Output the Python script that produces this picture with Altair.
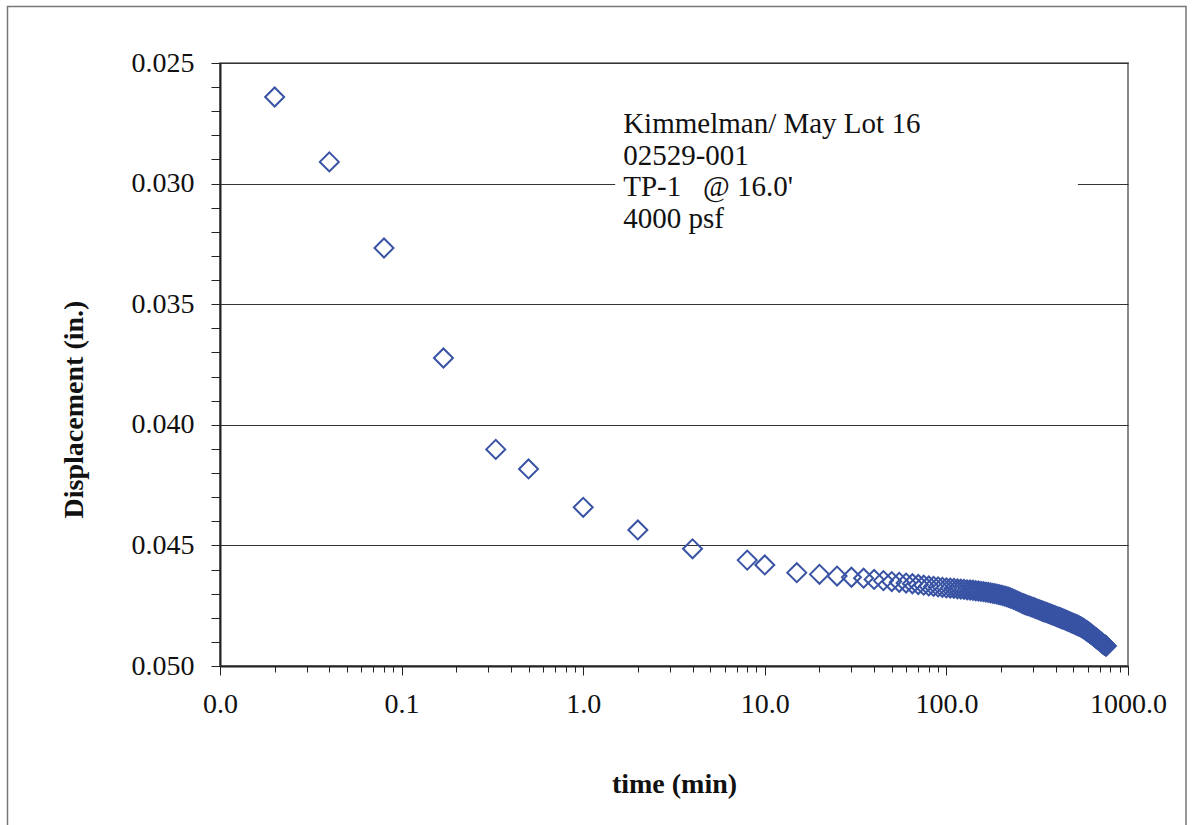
import altair as alt
import pandas as pd

# ---- data ----
early_time = [0.02, 0.04, 0.08, 0.17, 0.33, 0.5, 1, 2, 4, 8, 10]
early_disp = [0.02641, 0.02910, 0.03267, 0.03723, 0.04102, 0.04183,
              0.04342, 0.04436, 0.04514, 0.04561, 0.04581]

late_time = [15, 20, 25, 30, 35, 40, 45, 50, 55, 60, 65, 70, 75, 80, 85, 90, 95, 100,
             105, 110, 115, 120, 125, 130, 135, 140, 145, 150, 155, 160, 165, 170, 175, 180, 185, 190, 195, 200,
             205, 210, 215, 220, 225, 230, 235, 240, 245, 250, 255, 260, 265, 270, 275, 280, 285, 290, 295, 300,
             305, 310, 315, 320, 325, 330, 335, 340, 345, 350, 355, 360, 365, 370, 375, 380, 385, 390, 395, 400,
             405, 410, 415, 420, 425, 430, 435, 440, 445, 450, 455, 460, 465, 470, 475, 480, 485, 490, 495, 500,
             505, 510, 515, 520, 525, 530, 535, 540, 545, 550, 555, 560, 565, 570, 575, 580, 585, 590, 595, 600,
             605, 610, 615, 620, 625, 630, 635, 640, 645, 650, 655, 660, 665, 670, 675, 680, 685, 690, 695, 700,
             705, 710, 715, 720, 725, 730, 735, 740, 745, 750, 755, 760]
late_disp = [0.04613, 0.04620, 0.04627, 0.04632, 0.04636, 0.04641, 0.04646, 0.04650, 0.04653, 0.04656,
             0.04659, 0.04662, 0.04665, 0.04668, 0.04670, 0.04672, 0.04674, 0.04676,
             0.04677, 0.04678, 0.04680, 0.04681, 0.04682, 0.04684, 0.04685, 0.04686, 0.04688, 0.04689,
             0.04691, 0.04692, 0.04694, 0.04695, 0.04697, 0.04699, 0.04700, 0.04702, 0.04704, 0.04706,
             0.04708, 0.04710, 0.04713, 0.04715, 0.04718, 0.04721, 0.04724, 0.04727, 0.04730, 0.04733,
             0.04736, 0.04739, 0.04742, 0.04744, 0.04747, 0.04749, 0.04751, 0.04753, 0.04755, 0.04757,
             0.04759, 0.04761, 0.04763, 0.04765, 0.04767, 0.04769, 0.04771, 0.04773, 0.04775, 0.04777,
             0.04778, 0.04780, 0.04782, 0.04783, 0.04785, 0.04787, 0.04788, 0.04790, 0.04791, 0.04793,
             0.04795, 0.04796, 0.04798, 0.04799, 0.04801, 0.04803, 0.04804, 0.04806, 0.04807, 0.04809,
             0.04810, 0.04812, 0.04813, 0.04815, 0.04816, 0.04818, 0.04819, 0.04821, 0.04822, 0.04823,
             0.04825, 0.04826, 0.04828, 0.04829, 0.04831, 0.04832, 0.04834, 0.04835, 0.04837, 0.04838,
             0.04840, 0.04842, 0.04843, 0.04845, 0.04847, 0.04849, 0.04851, 0.04853, 0.04855, 0.04857,
             0.04859, 0.04861, 0.04863, 0.04865, 0.04867, 0.04869, 0.04871, 0.04873, 0.04875, 0.04877,
             0.04879, 0.04881, 0.04883, 0.04885, 0.04887, 0.04889, 0.04891, 0.04893, 0.04895, 0.04897,
             0.04899, 0.04901, 0.04903, 0.04905, 0.04907, 0.04909, 0.04910, 0.04912, 0.04913, 0.04915,
             0.04916, 0.04917]
assert len(late_time) == len(late_disp)

x_major = [0.01, 0.1, 1, 10, 100, 1000]
x_minor = [m * d for d in [0.01, 0.1, 1, 10, 100] for m in [2, 3, 4, 5, 6, 7, 8, 9]]
y_ticks = [round(0.025 + 0.001 * i, 3) for i in range(26)]

annot_lines = ["Kimmelman/ May Lot 16", "02529-001", "TP-1\u00a0\u00a0\u00a0@ 16.0'", "4000 psf"]
annot_pos = {"time": 1.66, "disp": 0.02792}
annot_box = {"t1": 1.5, "t2": 530, "d1": 0.0267, "d2": 0.0322}

FONT = "Liberation Serif"
BLUE = "#3953A4"

pts = pd.DataFrame({"time": early_time + late_time, "disp": early_disp + late_disp})

xscale = alt.Scale(type="log", domain=[0.01, 1000], nice=False)
yscale = alt.Scale(domain=[0.025, 0.050], reverse=True, nice=False, zero=False)

major_test_x = "indexof([0.01,0.1,1,10,100,1000], datum.value) >= 0"
major_test_y = "round(datum.value*1000) % 5 == 0"

xaxis = alt.Axis(
    values=sorted(x_major + x_minor),
    labelExpr=f"({major_test_x}) ? format(datum.value, '.1f') : ''",
    title="time (min)",
    grid=False,
    tickSize={"condition": {"test": major_test_x, "value": 9}, "value": 6},
    tickColor="#222", tickWidth=1,
    domainColor="#222", domainWidth=2,
    labelFont=FONT, labelFontSize=28, labelColor="#111", labelPadding=15,
    labelOverlap=False, labelFlush=False,
    titleFont=FONT, titleFontSize=28, titleFontWeight="bold", titleColor="#111",
    titleBaseline="alphabetic", titleY=126,
)
yaxis = alt.Axis(
    values=y_ticks,
    labelExpr=f"({major_test_y}) ? format(datum.value, '.3f') : ''",
    title="Displacement (in.)",
    grid=True,
    gridColor="#333", gridWidth=1,
    gridOpacity={"condition": {"test": major_test_y, "value": 1}, "value": 0},
    tickSize=9, tickColor="#222", tickWidth=1,
    domainColor="#222", domainWidth=2,
    labelFont=FONT, labelFontSize=28, labelColor="#111", labelPadding=17,
    labelOverlap=False, labelFlush=False,
    titleFont=FONT, titleFontSize=28, titleFontWeight="bold", titleColor="#111",
    titleAngle=270, titleBaseline="alphabetic", titleAlign="center",
    titleX=-138, titleY=346,
)

points = alt.Chart(pts).mark_point(
    shape="diamond", filled=False, size=360, strokeWidth=2, color=BLUE, opacity=1
).encode(
    x=alt.X("time:Q", scale=xscale, axis=xaxis),
    y=alt.Y("disp:Q", scale=yscale, axis=yaxis),
)

box_df = pd.DataFrame([annot_box])
box = alt.Chart(box_df).mark_rect(color="white").encode(
    x=alt.X("t1:Q", scale=xscale, axis=xaxis), x2="t2:Q",
    y=alt.Y("d1:Q", scale=yscale, axis=yaxis), y2="d2:Q",
)

text_df = pd.DataFrame([{"time": annot_pos["time"], "disp": annot_pos["disp"],
                         "label": "\n".join(annot_lines)}])
text = alt.Chart(text_df).mark_text(
    align="left", baseline="alphabetic", font=FONT, fontSize=29,
    lineBreak="\n", lineHeight=31.5, color="#111"
).encode(
    x=alt.X("time:Q", scale=xscale, axis=xaxis),
    y=alt.Y("disp:Q", scale=yscale, axis=yaxis),
    text="label:N",
)

frame = alt.Chart(pd.DataFrame({"a": [0]})).mark_rect(
    fill=None, fillOpacity=0, stroke="#777", strokeWidth=1.5
).encode(
    x=alt.value(-212.5), x2=alt.value(966),
    y=alt.value(-56.5), y2=alt.value(800),
)

chart = alt.layer(box, frame, text, points).properties(
    width=908, height=603,
    padding={"left": 220, "top": 63, "right": 66, "bottom": 159},
    autosize=alt.AutoSizeParams(type="none"),
    background="white",
).configure_view(stroke="#888", strokeWidth=2)

chart.save("out.html", embed_options={"renderer": "svg", "actions": False})
